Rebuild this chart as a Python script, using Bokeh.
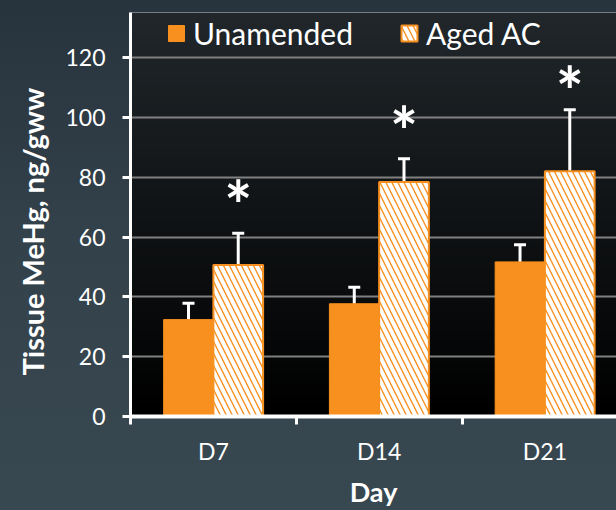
import numpy as np
from bokeh.plotting import figure
from bokeh.models import (Range1d, FixedTicker, Legend, LegendItem, Whisker, TeeHead,
                          ColumnDataSource, Title)
from bokeh.core.properties import value
from bokeh.embed import file_html
from bokeh.resources import INLINE

# ---------------- data ----------------
days = ["D7", "D14", "D21"]
series = ["Unamended", "Aged AC"]
unamended = [32.4, 37.7, 51.7]
unamended_err = [5.5, 5.5, 5.7]
aged_ac = [50.7, 78.4, 82.0]
aged_ac_err = [10.6, 7.8, 20.6]
star_y = [74.9, 99.7, 112.9]      # significance markers above Aged AC
y_ticks = [0, 20, 40, 60, 80, 100, 120]
x_title = "Day"
y_title = "Tissue MeHg, ng/gww"

# ---------------- style ----------------
ORANGE = "#F7901E"
FONT = "Lato"
Y_MAX = 135.1
X_MAX = 2.932
BAR_W = 0.30
OFFS = 0.15

idx = np.arange(len(days))
x_un = idx + 0.5 - OFFS
x_ag = idx + 0.5 + OFFS

p = figure(width=616, height=510, output_backend="svg", toolbar_location=None,
           x_range=Range1d(0, X_MAX), y_range=Range1d(0, Y_MAX),
           min_border_left=130, min_border_right=0, min_border_top=12,
           min_border_bottom=94)
p.border_fill_alpha = 0
p.styles = {"background": "linear-gradient(to bottom, #27333d 0%, #33414b 45%, #384850 100%)"}
p.outline_line_color = None

# plot-area vertical gradient
n = 256
t = np.linspace(0, 1, n)[:, None]   # 0 = bottom, 1 = top
r = (0x21 * t).astype(np.uint32)
g = (0x27 * t).astype(np.uint32)
b = (0x2b * t).astype(np.uint32)
img = (255 << 24) | (b << 16) | (g << 8) | r
p.image_rgba(image=[img.astype(np.uint32)], x=0, y=0, dw=X_MAX, dh=Y_MAX, level="image")

src_un = ColumnDataSource(dict(x=x_un, top=unamended, upper=np.array(unamended) + np.array(unamended_err)))
src_ag = ColumnDataSource(dict(x=x_ag, top=aged_ac, upper=np.array(aged_ac) + np.array(aged_ac_err),
                               star=star_y, s=["*"] * len(days)))

r_un = p.vbar(x="x", top="top", width=BAR_W, source=src_un, fill_color=ORANGE, line_color=ORANGE,
              line_width=1)
r_ag = p.vbar(x="x", top="top", width=BAR_W, source=src_ag, fill_color=ORANGE, line_color=ORANGE,
              line_width=2, hatch_pattern="left_diagonal_line", hatch_color="white",
              hatch_scale=12, hatch_weight=4)

for src in (src_un, src_ag):
    w = Whisker(base="x", upper="upper", lower="top", source=src, dimension="height",
                line_color="white", line_width=3,
                upper_head=TeeHead(size=12, line_color="white", line_width=3),
                lower_head=None)
    p.add_layout(w)

p.text(x="x", y="star", text="s", source=src_ag, text_color="white",
       text_font=value(FONT), text_font_style="bold", text_font_size="66px",
       text_align="center", text_baseline="middle", y_offset=12)

# axes
p.xgrid.grid_line_color = None
p.ygrid.grid_line_color = "#808080"
p.ygrid.grid_line_width = 2
p.ygrid.ticker = FixedTicker(ticks=y_ticks)

ya = p.yaxis[0]
ya.ticker = FixedTicker(ticks=y_ticks)
ya.axis_line_color = "white"
ya.axis_line_width = 3
ya.major_tick_line_color = "white"
ya.major_tick_line_width = 3
ya.major_tick_out = 8
ya.major_tick_in = 0
ya.minor_tick_line_color = None
ya.major_label_text_color = "white"
ya.major_label_text_font = FONT
ya.major_label_text_font_size = "23px"
ya.major_label_standoff = 17

p.add_layout(Title(text=y_title, align="left", offset=41, standoff=25,
                   text_color="white", text_font=FONT, text_font_style="bold",
                   text_font_size="29px"), "left")

xa = p.xaxis[0]
xa.ticker = FixedTicker(ticks=list(idx + 0.5), minor_ticks=list(range(len(days) + 1)))
xa.major_label_overrides = {float(i + 0.5): d for i, d in enumerate(days)}
xa.axis_line_color = "white"
xa.axis_line_width = 4
xa.major_tick_line_color = None
xa.major_tick_out = 8
xa.major_tick_in = 0
xa.minor_tick_line_color = "white"
xa.minor_tick_line_width = 3
xa.minor_tick_out = 8
xa.minor_tick_in = 0
xa.major_label_text_color = "white"
xa.major_label_text_font = FONT
xa.major_label_text_font_size = "23px"
xa.major_label_text_line_height = 1.0
xa.major_label_standoff = 12
xa.axis_label = x_title
xa.axis_label_text_color = "white"
xa.axis_label_text_font = FONT
xa.axis_label_text_font_style = "bold"
xa.axis_label_text_font_size = "27px"
xa.axis_label_text_line_height = 1.0
xa.axis_label_standoff = 7

legend = Legend(items=[LegendItem(label=series[0], renderers=[r_un]),
                       LegendItem(label=series[1], renderers=[r_ag])],
                orientation="horizontal", location=(36, 365),
                background_fill_alpha=0, border_line_color=None,
                label_text_color="white", label_text_font=FONT, label_text_font_size="30px",
                glyph_width=20, glyph_height=20, label_standoff=7, spacing=46,
                padding=0, margin=0)
p.add_layout(legend)

open("out.html", "w").write(file_html(p, INLINE))
